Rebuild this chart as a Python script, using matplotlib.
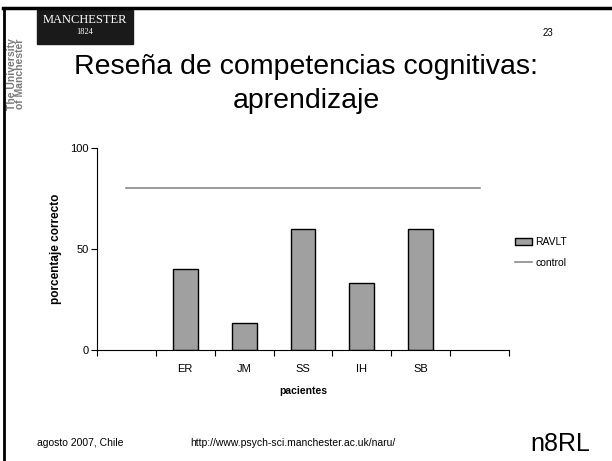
import numpy as np
import matplotlib
matplotlib.use("Agg")
import matplotlib.pyplot as plt
from matplotlib.patches import Rectangle
from matplotlib.lines import Line2D

plt.rcParams['font.family'] = ['Liberation Sans', 'DejaVu Sans']

# data
categories = ['', 'ER', 'JM', 'SS', 'IH', 'SB', '']
ravlt = [np.nan, 40, 13.3, 60, 33.3, 60, np.nan]
control = [80, 80, 80, 80, 80, 80, 80]
yticks = [0, 50, 100]

fig = plt.figure(figsize=(6.12, 4.61), dpi=100)

# slide frame
fig.add_artist(Line2D([0.005, 1.0], [0.982, 0.982], color='black', lw=2.5, transform=fig.transFigure))
fig.add_artist(Line2D([0.007, 0.007], [0.0, 0.983], color='black', lw=2.0, transform=fig.transFigure))

# Manchester logo box
fig.add_artist(Rectangle((37 / 612, 1 - 44 / 461), 96 / 612, 34 / 461,
                         transform=fig.transFigure, color='#1a1a1a'))
fig.text(85 / 612, 1 - 20 / 461, 'MANCHESTER', color='white', family='Liberation Serif',
         fontsize=9, ha='center', va='center')
fig.text(85 / 612, 1 - 32 / 461, '1824', color='white', family='Liberation Serif',
         fontsize=6, ha='center', va='center')
fig.text(16 / 612, 1 - 74 / 461, 'The University\nof Manchester', color='#7a7a7a',
         fontsize=7.5, fontweight='bold', rotation=90, ha='center', va='center',
         linespacing=0.8)
fig.text(548 / 612, 1 - 33 / 461, '23', fontsize=7, ha='center', va='center')

# title
fig.text(306 / 612, 1 - 67 / 461, 'Reseña de competencias cognitivas:', fontsize=20.5,
         ha='center', va='center')
fig.text(306 / 612, 1 - 101 / 461, 'aprendizaje', fontsize=20.5, ha='center', va='center')

# footer
fig.text(37 / 612, 1 - 443 / 461, 'agosto 2007, Chile', fontsize=7.5, ha='left', va='center')
fig.text(190 / 612, 1 - 443 / 461, 'http://www.psych-sci.manchester.ac.uk/naru/', fontsize=7.5,
         ha='left', va='center')
fig.text(530 / 612, 1 - 444 / 461, 'n8RL', fontsize=18, ha='left', va='center')

# chart
ax = fig.add_axes([97 / 612, 1 - 350 / 461, 412 / 612, 202 / 461])
x = np.arange(len(categories))
bars = ax.bar(x, ravlt, width=0.42, color='#a0a0a0', edgecolor='black', linewidth=1.0,
              label='RAVLT')
line, = ax.plot(x, control, color='#808080', linewidth=1.1, label='control')

ax.set_xlim(-0.5, len(categories) - 0.5)
ax.set_ylim(0, 100)
ax.set_yticks(yticks)
ax.set_xticks(np.arange(-0.5, len(categories)))
ax.set_xticklabels([])
ax.set_xticks(x, minor=True)
ax.set_xticklabels(categories, minor=True)
ax.tick_params(axis='x', which='minor', length=0, pad=10, labelsize=8)
ax.tick_params(axis='x', which='major', length=4, width=0.8, direction='out')
ax.tick_params(axis='y', length=4, width=0.8, labelsize=8, pad=2)

for s in ['top', 'right']:
    ax.spines[s].set_visible(False)
ax.spines['left'].set_linewidth(0.8)
ax.spines['bottom'].set_linewidth(0.8)

ax.set_xlabel('pacientes', fontsize=7.5, fontweight='bold', labelpad=9)
ax.set_ylabel('porcentaje correcto', fontsize=8.5, fontweight='bold', labelpad=6)

ax.legend([bars, line], ['RAVLT', 'control'], loc='upper left', bbox_to_anchor=(1.005, 0.58),
          frameon=False, fontsize=7.5, handlelength=1.6, handletextpad=0.3,
          labelspacing=1.05, borderaxespad=0)

fig.savefig('out.png', dpi=100)
